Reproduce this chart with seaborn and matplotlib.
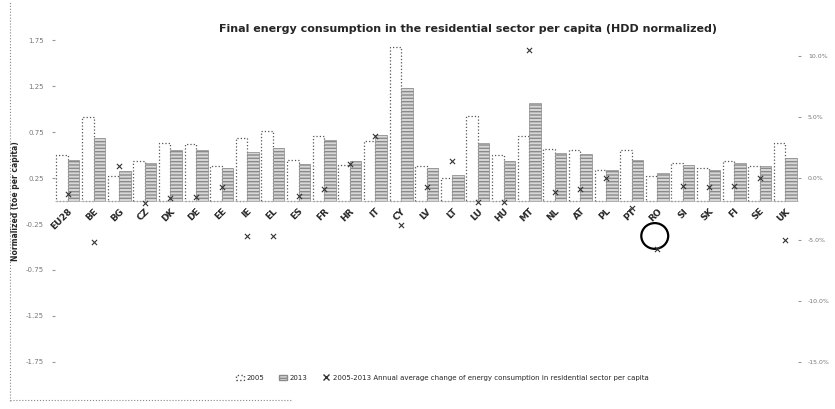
import matplotlib
matplotlib.use("Agg")
import matplotlib.pyplot as plt
from matplotlib.patches import Ellipse
from matplotlib.lines import Line2D
from matplotlib.patches import Patch
import numpy as np
import pandas as pd
import seaborn as sns

paises = ["EU28", "BE", "BG", "CZ", "DK", "DE", "EE", "IE", "EL", "ES", "FR",
          "HR", "IT", "CY", "LV", "LT", "LU", "HU", "MT", "NL", "AT", "PL",
          "PT", "RO", "SI", "SK", "FI", "SE", "UK"]
v2005 = [0.50, 0.91, 0.27, 0.43, 0.63, 0.62, 0.38, 0.68, 0.76, 0.45, 0.71,
         0.39, 0.65, 1.68, 0.38, 0.25, 0.92, 0.50, 0.71, 0.57, 0.55, 0.34,
         0.55, 0.27, 0.41, 0.36, 0.43, 0.38, 0.63]
v2013 = [0.45, 0.68, 0.33, 0.41, 0.55, 0.55, 0.36, 0.53, 0.58, 0.40, 0.66,
         0.43, 0.72, 1.23, 0.36, 0.28, 0.63, 0.43, 1.07, 0.52, 0.51, 0.34,
         0.45, 0.30, 0.39, 0.34, 0.41, 0.38, 0.47]
variacao = [-1.3, -5.2, 1.0, -2.0, -1.6, -1.5, -0.7, -4.7, -4.7, -1.4, -0.9,
            1.2, 3.5, -3.8, -0.7, 1.4, -1.9, -1.9, 10.5, -1.1, -0.9, 0.0,
            -2.4, -5.8, -0.6, -0.7, -0.6, 0.0, -5.0]
anos = ["2005", "2013"]
ticks_esq = [-1.75, -1.25, -0.75, -0.25, 0.25, 0.75, 1.25, 1.75]
ticks_dir = [-15, -10, -5, 0, 5, 10]

df = pd.DataFrame({
    "pais": paises * 2,
    "ano": [anos[0]] * len(paises) + [anos[1]] * len(paises),
    "valor": v2005 + v2013,
})

sns.set_style("white")
plt.rcParams["font.family"] = ["DejaVu Sans"]

fig = plt.figure(figsize=(8.35, 4.09), dpi=100)
ax = fig.add_axes([0.066, 0.115, 0.89, 0.787])

sns.barplot(data=df, x="pais", y="valor", hue="ano", order=paises,
            hue_order=anos, width=0.9, gap=0, ax=ax, legend=False,
            palette={"2005": "white", "2013": "#d4d4d4"}, saturation=1)

n = len(paises)
for i, p in enumerate(ax.patches[:2 * n]):
    if i < n:
        p.set_facecolor("white")
        p.set_edgecolor("#555555")
        p.set_linestyle(":")
        p.set_linewidth(0.9)
    else:
        p.set_facecolor("#d8d8d8")
        p.set_edgecolor("#8a8a8a")
        p.set_hatch("-----")
        p.set_linewidth(0.5)

ax.set_ylim(-1.75, 1.75)
ax.set_yticks(ticks_esq)
ax.set_yticklabels([f"{t:.2f}" for t in ticks_esq], fontsize=5, color="#777777")
ax.tick_params(axis="y", length=2, color="#999999", pad=6)
ax.set_xlim(-0.5, n - 0.5)
for s in ["top", "right", "left"]:
    ax.spines[s].set_visible(False)
ax.spines["bottom"].set_position(("data", 0))
ax.spines["bottom"].set_color("#bbbbbb")
ax.spines["bottom"].set_linewidth(0.5)
ax.tick_params(axis="x", length=0, pad=4)
ax.set_xticks(range(n))
ax.set_xticklabels(paises, rotation=45, ha="right", rotation_mode="anchor",
                   fontsize=6.5, fontweight="bold")
ax.set_xlabel("")
ax.set_ylabel("Normalized (toe per capita)", fontsize=5.5, fontweight="bold",
              labelpad=4)

ax2 = ax.twinx()
sns.scatterplot(x=paises, y=variacao, marker="x", color="#333333", s=14,
                linewidth=0.8, ax=ax2, legend=False)
ax2.set_ylim(-15, 11.3)
ax2.set_yticks(ticks_dir)
ax2.set_yticklabels([f"{t:.1f}%" for t in ticks_dir], fontsize=4.5,
                    color="#777777")
ax2.tick_params(axis="y", length=2, color="#999999", pad=5)
for s in ax2.spines.values():
    s.set_visible(False)

# circulo feito a mao em volta de RO
ax.add_patch(Ellipse((paises.index("RO") - 0.1, -0.38), 1.05, 0.28,
                     fill=False, edgecolor="black", linewidth=1.6,
                     clip_on=False))

fig.text(0.56, 0.93, "Final energy consumption in the residential sector per "
         "capita (HDD normalized)", ha="center", va="center", fontsize=8,
         fontweight="bold")

handles = [
    Patch(facecolor="white", edgecolor="#555555", linestyle=":", label="2005"),
    Patch(facecolor="#d8d8d8", edgecolor="#8a8a8a", hatch="-----", label="2013"),
    Line2D([], [], marker="x", color="#333333", linestyle="none",
           markersize=4, label="2005-2013 Annual average change of energy "
           "consumption in residential sector per capita"),
]
fig.legend(handles=handles, loc="center left", bbox_to_anchor=(0.275, 0.076),
           ncol=3, frameon=False, fontsize=5, handlelength=1.2,
           handleheight=0.8, columnspacing=2.0, handletextpad=0.4)

fig.add_artist(Line2D([0.012, 0.012], [0.02, 0.995], color="#888888",
                      linestyle=":", linewidth=0.8))
fig.add_artist(Line2D([0.012, 0.35], [0.022, 0.022], color="#888888",
                      linestyle=":", linewidth=0.8))

fig.savefig("out.png", dpi=100)
